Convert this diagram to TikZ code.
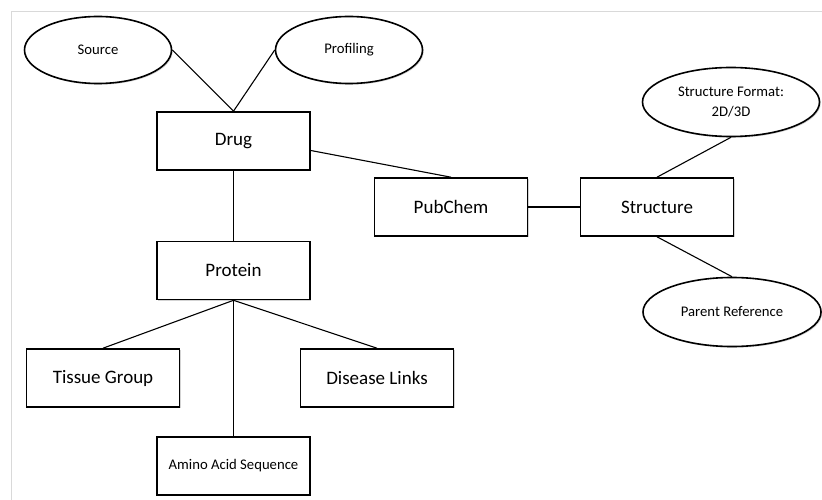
\documentclass[tikz,border=0pt]{standalone}
\usepackage{fontspec}
\setmainfont{Carlito}
\usetikzlibrary{shapes.geometric,shadows}
\begin{document}
\begin{tikzpicture}[x=1pt,y=-1pt,
  entity/.style={draw=black,line width=1.6pt,fill=white,rectangle,
    minimum width=153pt,minimum height=58pt,inner sep=0pt,
    font=\fontsize{19}{22}\selectfont,
    drop shadow={shadow xshift=1.2pt,shadow yshift=-1.2pt,opacity=0.35}},
  smallentity/.style={entity,font=\fontsize{14.7}{18}\selectfont},
  attr/.style={draw=black,line width=1.6pt,fill=white,ellipse,
    inner sep=0pt,font=\fontsize{14.7}{20}\selectfont,align=center,
    drop shadow={shadow xshift=1.2pt,shadow yshift=-1.2pt,opacity=0.35}},
  link/.style={draw=black,line width=1.1pt}]
\useasboundingbox (0,0) rectangle (822,500);
% page frame
\draw[color=black!15,line width=1pt] (11,500) -- (11,12) -- (822,12);

% attribute ellipses
\node[attr,minimum width=147pt,minimum height=67pt] (src) at (98,50) {Source};
\node[attr,minimum width=147pt,minimum height=67pt] (prof) at (349,50) {Profiling};
\node[attr,minimum width=177pt,minimum height=69pt] (fmt) at (731,102) {Structure Format:\\2D/3D};
\node[attr,minimum width=178pt,minimum height=69pt] (par) at (732,312) {Parent Reference};

% entity boxes
\node[entity] (drug) at (233.5,141) {Drug};
\node[entity] (pub) at (451,207) {PubChem};
\node[entity] (str) at (657,207) {Structure};
\node[entity] (prot) at (233.5,270.5) {Protein};
\node[entity] (tis) at (103,378) {Tissue Group};
\node[entity] (dis) at (377,378) {Disease Links};
\node[smallentity] (amino) at (233.5,466) {Amino Acid Sequence};

% connectors
\draw[link] (src.east) -- (drug.north);
\draw[link] (prof.west) -- (drug.north);
\draw[link] (drug.-7.5) -- (pub.north);
\draw[link] (pub.east) -- (str.west);
\draw[link] (fmt.south) -- (str.north);
\draw[link] (str.south) -- (par.north);
\draw[link] (drug.south) -- (prot.north);
\draw[link] (prot.south) -- (tis.north);
\draw[link] (prot.south) -- (dis.north);
\draw[link] (prot.south) -- (amino.north);
\end{tikzpicture}
\end{document}
